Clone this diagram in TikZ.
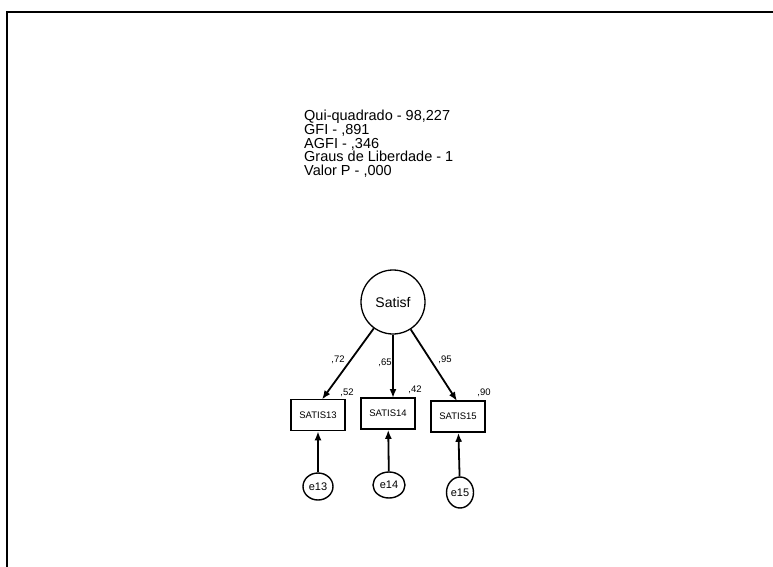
\documentclass[tikz,border=0pt]{standalone}
\usepackage{fontspec}
\setmainfont{Liberation Sans}
\usetikzlibrary{arrows.meta,shapes.geometric}
\begin{document}
\begin{tikzpicture}[x=1pt,y=-1pt,
  frameline/.style={line width=1.6pt,draw=black},
  latent/.style={circle,draw,line width=1.3pt,minimum size=64pt,inner sep=0pt,font=\fontsize{14}{16}\selectfont},
  observed/.style={rectangle,draw,line width=1.6pt,minimum width=54pt,minimum height=31pt,inner sep=0pt,font=\fontsize{9.5}{11}\selectfont},
  errvar/.style={ellipse,draw,line width=1.4pt,inner sep=0pt,font=\fontsize{11}{13}\selectfont},
  coef/.style={inner sep=0pt,font=\fontsize{9.5}{11}\selectfont},
  path/.style={line width=1.8pt,-{Latex[length=9pt,width=7pt]}}]
\useasboundingbox (0,0) rectangle (773,567);

% page frame
\draw[frameline] (7,567) -- (7,12) -- (773,12);

% fit statistics
\node[anchor=north west,inner sep=0pt,align=left,font=\fontsize{14.5}{13.7}\selectfont] (fit) at (304,110)
  {Qui-quadrado - 98,227\\GFI - ,891\\AGFI - ,346\\Graus de Liberdade - 1\\Valor P - ,000};

% latent factor and indicators
\node[latent] (s) at (393,302) {Satisf};
\node[observed] (b13) at (318,415) {SATIS13};
\node[observed] (b14) at (388,413.5) {SATIS14};
\node[observed] (b15) at (458,416.5) {SATIS15};

% error terms
\node[errvar,minimum width=30pt,minimum height=27pt] (e13) at (318,486.5) {e13};
\node[errvar,minimum width=32pt,minimum height=26pt] (e14) at (389,485) {e14};
\node[errvar,minimum width=27pt,minimum height=31pt] (e15) at (460,492.5) {e15};

% loadings
\coordinate (t13) at (322,399.5);
\coordinate (t14) at (393,398);
\coordinate (t15) at (457,401);
\draw[path] (s) -- (t13);
\draw[path] (s) -- (t14);
\draw[path] (s) -- (t15);

\draw[path] (e13) -- (b13);
\draw[path] (e14) -- (b14);
\draw[path] (e15) -- (b15);

% standardized estimates
\node[coef] (l72) at (338,360) {,72};
\node[coef] (l65) at (385,363) {,65};
\node[coef] (l95) at (445,360) {,95};
\node[coef] (r52) at (347,393) {,52};
\node[coef] (r42) at (415,390) {,42};
\node[coef] (r90) at (484,393) {,90};
\end{tikzpicture}
\end{document}
